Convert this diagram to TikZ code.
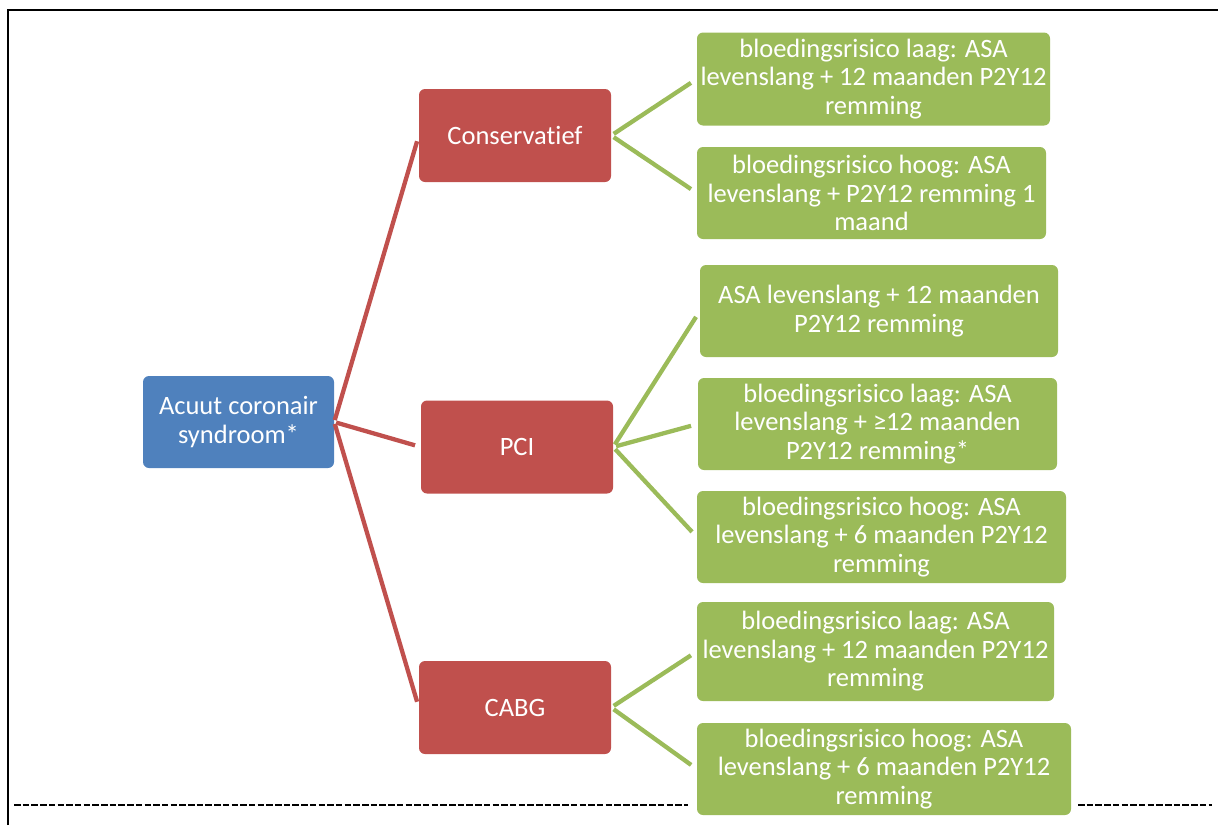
\documentclass[tikz,border=0pt]{standalone}
\usepackage{fontspec}
\setmainfont{Carlito}[Ligatures=NoCommon]
\definecolor{accblue}{HTML}{4F81BD}
\definecolor{accred}{HTML}{C0504D}
\definecolor{accgreen}{HTML}{9BBB59}
\tikzset{
  box/.style={rounded corners=6pt, inner sep=0pt, align=center, text=white,
    font=\fontsize{26.5}{28.5}\selectfont},
  bluebox/.style={box, fill=accblue, minimum width=191pt, minimum height=92pt},
  redbox/.style={box, fill=accred, minimum width=192pt, minimum height=93pt},
  greenbox/.style={box, fill=accgreen, minimum height=93pt},
  redlink/.style={draw=accred, line width=4.3pt, shorten <=2pt, shorten >=6pt},
  greenlink/.style={draw=accgreen, line width=4.3pt, shorten <=3pt, shorten >=7pt},
  frameline/.style={line width=2pt, black},
  dashline/.style={line width=2pt, black, dash pattern=on 6.5pt off 2.2pt}
}
\begin{document}
\begin{tikzpicture}[x=1pt,y=-1pt]
\useasboundingbox (0,0) rectangle (1218,825);
\draw[frameline] (8,825) -- (8,10) -- (1218,10);
\draw[dashline] (14,805) -- (688,805);
\draw[dashline] (1078,805) -- (1212,805);

\node[bluebox] (acs) at (238.5,422) {Acuut coronair\\syndroom*};
\node[redbox] (cons) at (515,135.5) {Conservatief};
\node[redbox] (pci) at (517,447) {PCI};
\node[redbox] (cabg) at (515,707.5) {CABG};

\node[greenbox, minimum width=353pt] (g1) at (873.5,79) {bloedingsrisico laag: ASA\\levenslang + 12 maanden P2Y12\\remming};
\node[greenbox, minimum width=349pt, minimum height=92pt] (g2) at (871.5,193) {bloedingsrisico hoog: ASA\\levenslang + P2Y12 remming 1\\maand};
\node[greenbox, minimum width=358pt, minimum height=92pt] (g3) at (879,311) {ASA levenslang + 12 maanden\\P2Y12 remming};
\node[greenbox, minimum width=359pt, minimum height=92pt] (g4) at (877.5,424) {bloedingsrisico laag: ASA\\levenslang + ≥12 maanden\\P2Y12 remming*};
\node[greenbox, minimum width=369pt, minimum height=92pt] (g5) at (881.5,537) {bloedingsrisico hoog: ASA\\levenslang + 6 maanden P2Y12\\remming};
\node[greenbox, minimum width=357pt, minimum height=99pt] (g6) at (875.5,651.5) {bloedingsrisico laag: ASA\\levenslang + 12 maanden P2Y12\\remming};
\node[greenbox, minimum width=374pt, minimum height=92pt] (g7) at (884,769) {bloedingsrisico hoog: ASA\\levenslang + 6 maanden P2Y12\\remming};

\draw[redlink] (acs.east) -- (cons.west);
\draw[redlink] (acs.east) -- (pci.west);
\draw[redlink] (acs.east) -- (cabg.west);

\draw[greenlink] (cons.east) -- (g1.west);
\draw[greenlink] (cons.east) -- (g2.west);
\draw[greenlink] (pci.east) -- (g3.west);
\draw[greenlink] (pci.east) -- (g4.west);
\draw[greenlink] (pci.east) -- (g5.west);
\draw[greenlink] (cabg.east) -- (g6.west);
\draw[greenlink] (cabg.east) -- (g7.west);
\end{tikzpicture}
\end{document}
